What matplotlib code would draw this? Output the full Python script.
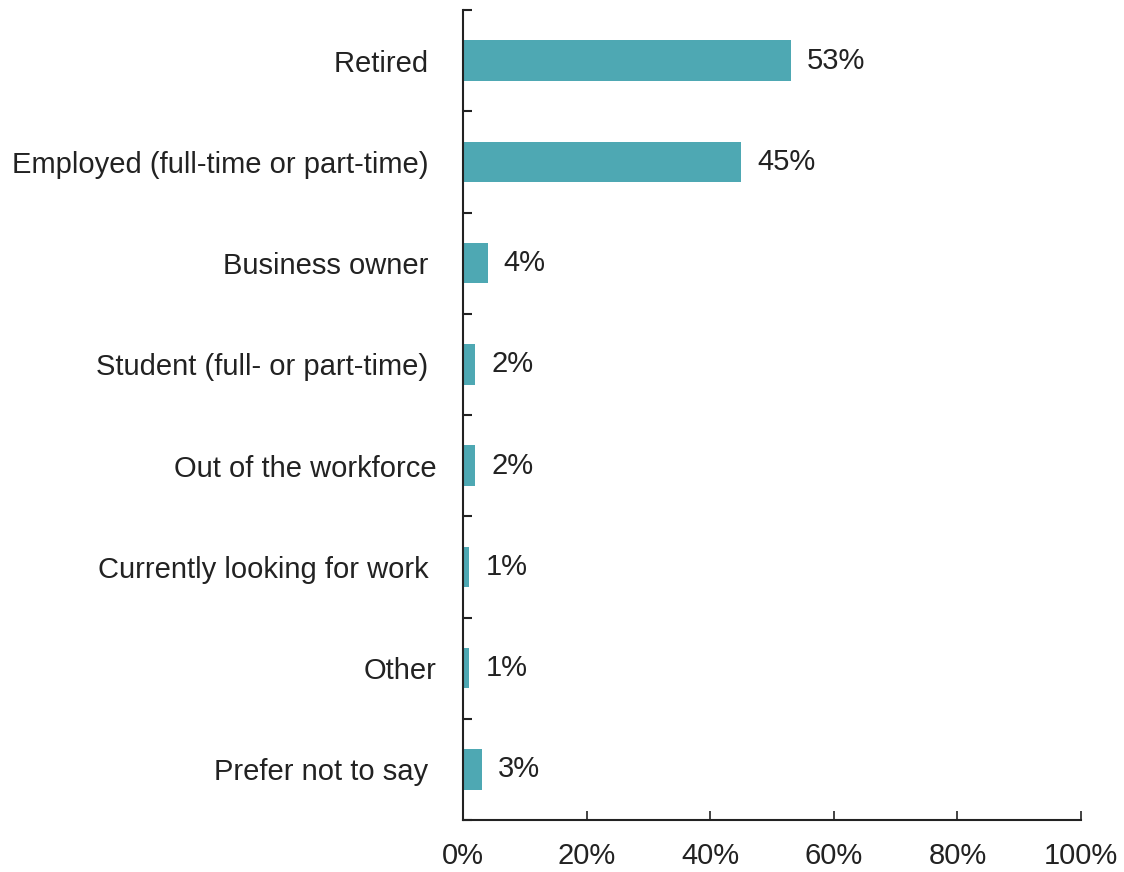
import matplotlib.pyplot as plt
from matplotlib.ticker import FixedLocator, PercentFormatter

plt.rcParams['font.family'] = ['Liberation Sans', 'DejaVu Sans']

statuses = ["Retired ", "Employed (full-time or part-time) ", "Business owner ",
            "Student (full- or part-time) ", "Out of the workforce",
            "Currently looking for work ", "Other", "Prefer not to say "]
shares = [53, 45, 4, 2, 2, 1, 1, 3]
bar_color = "#4EA8B3"
text_color = "#222222"

fig = plt.figure(figsize=(11.24, 8.72), dpi=100)
ax = fig.add_axes([0.412, 0.0596, 0.5497, 0.9289])

pos = list(range(len(statuses)))
ax.barh(pos, shares, height=0.4, color=bar_color)
for y, v in zip(pos, shares):
    ax.text(v + 2.6, y, f"{v}%", va="center", ha="left", fontsize=21, color=text_color)

ax.set_ylim(len(statuses) - 0.5, -0.5)
ax.set_xlim(0, 100)
ax.set_yticks(pos)
ax.set_yticklabels(statuses)
ax.yaxis.set_minor_locator(FixedLocator([p - 0.5 for p in range(len(statuses) + 1)]))
ax.tick_params(axis="y", which="major", length=0, pad=19, labelsize=21, labelcolor=text_color)
ax.tick_params(axis="y", which="minor", direction="in", length=6.5, width=1.5, color=text_color)

ax.set_xticks(range(0, 101, 20))
ax.xaxis.set_major_formatter(PercentFormatter(decimals=0))
ax.tick_params(axis="x", direction="in", length=6.5, width=1.2, pad=16, labelsize=21,
               color=text_color, labelcolor=text_color)

for side in ("top", "right"):
    ax.spines[side].set_visible(False)
for side in ("left", "bottom"):
    ax.spines[side].set_linewidth(1.5)
    ax.spines[side].set_color(text_color)

fig.savefig("out.png", dpi=100)
